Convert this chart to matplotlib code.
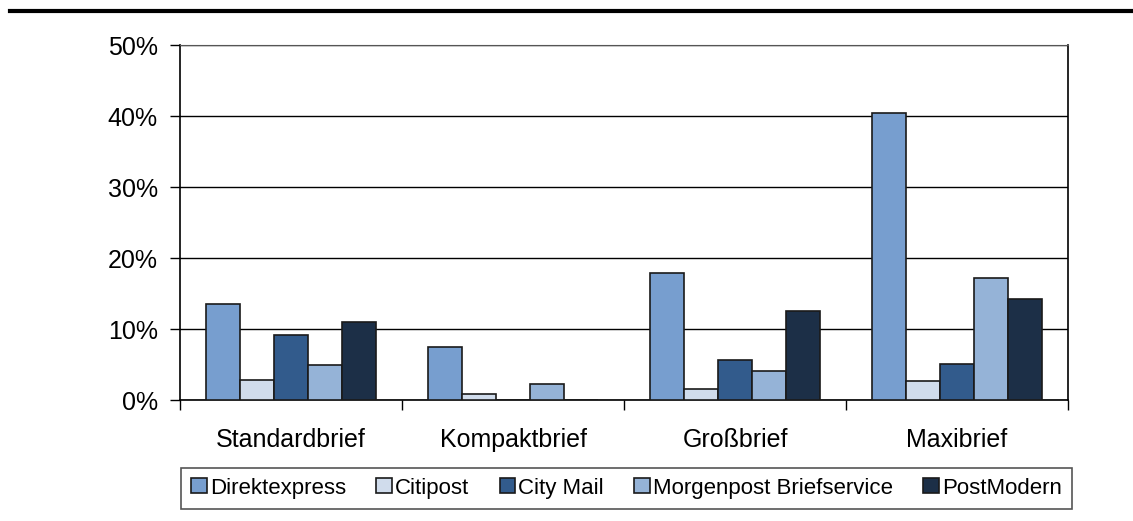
import matplotlib.pyplot as plt
import numpy as np
from matplotlib.lines import Line2D
from matplotlib.ticker import PercentFormatter, FixedLocator

categories = ["Standardbrief", "Kompaktbrief", "Großbrief", "Maxibrief"]
series = ["Direktexpress", "Citipost", "City Mail", "Morgenpost Briefservice", "PostModern"]
direktexpress = [13.5, 7.5, 17.9, 40.4]
citipost = [2.8, 0.9, 1.6, 2.7]
city_mail = [9.2, 0.0, 5.6, 5.1]
morgenpost = [4.9, 2.2, 4.1, 17.2]
postmodern = [11.0, 0.0, 12.5, 14.2]
colors = ["#779ECF", "#D0DCEC", "#325B8C", "#95B3D7", "#1C2F47"]

plt.rcParams['font.family'] = ['Liberation Sans', 'DejaVu Sans']

fig = plt.figure(figsize=(11.33, 5.21), dpi=100)
ax = fig.add_axes([0.159, 0.2322, 0.7836, 0.6814])

values = [direktexpress, citipost, city_mail, morgenpost, postmodern]
x = np.arange(len(categories))
width = 0.153
for i, (name, vals, col) in enumerate(zip(series, values, colors)):
    offs = (i - 2) * width
    ax.bar(x + offs, vals, width, color=col, edgecolor='#1a1a1a', linewidth=1.2,
           label=name, zorder=3)

ax.set_xlim(-0.5, len(categories) - 0.5)
ax.set_ylim(0, 50)
ax.set_yticks(np.arange(0, 51, 10))
ax.yaxis.set_major_formatter(PercentFormatter(decimals=0))
ax.yaxis.grid(True, color='black', linewidth=1, zorder=0)
ax.set_xticks(x)
ax.set_xticklabels(categories, fontsize=18)
ax.xaxis.set_minor_locator(FixedLocator(np.arange(-0.5, len(categories), 1.0)))
ax.tick_params(axis='x', which='major', length=0, pad=20)
ax.tick_params(axis='x', which='minor', length=7, width=1)
ax.tick_params(axis='y', length=7, width=1, labelsize=18, pad=9)

for side in ['left', 'bottom', 'right']:
    ax.spines[side].set_color('black')
    ax.spines[side].set_linewidth(1.2)
ax.spines['top'].set_color('#555555')

leg = fig.legend(loc='center', bbox_to_anchor=(0.553, 0.0633), ncol=5, fontsize=16,
                 handlelength=0.7, handleheight=0.62, handletextpad=0.15, columnspacing=1.36,
                 fancybox=False, framealpha=1, borderpad=0.45, borderaxespad=0)
leg.get_frame().set_edgecolor('#555555')
leg.get_frame().set_linewidth(1.2)

fig.add_artist(Line2D([0.009, 1.0], [0.979, 0.979], color='black', linewidth=3,
                      transform=fig.transFigure))

fig.savefig('out.png', dpi=100)
plt.close(fig)
